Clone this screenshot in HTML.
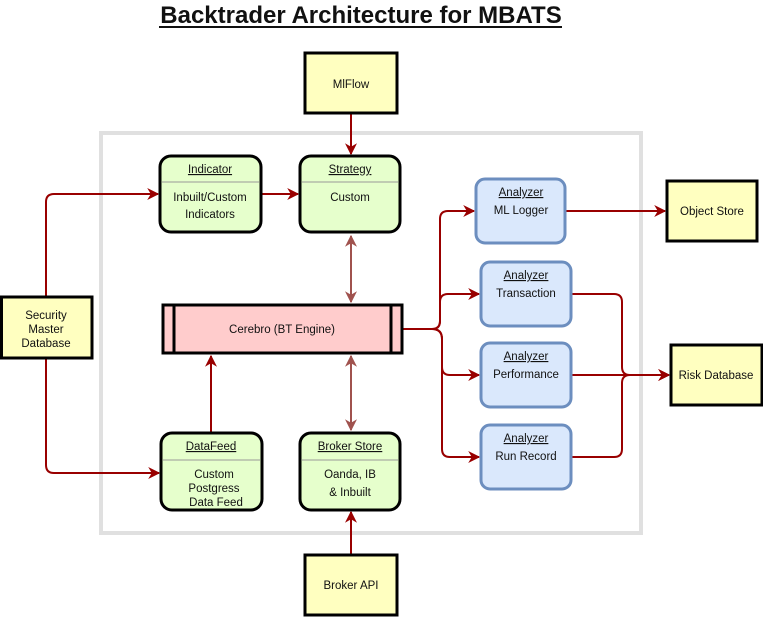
<!DOCTYPE html>
<html><head><meta charset="utf-8"><style>
html,body{margin:0;padding:0;background:#fff;width:763px;height:617px;overflow:hidden}
text{font-family:"Liberation Sans",sans-serif;font-size:11.5px;fill:#111}
</style></head><body>
<svg width="763" height="617" viewBox="0 0 763 617" xmlns="http://www.w3.org/2000/svg">
<defs>
<marker id="a" viewBox="0 0 10 10" refX="9" refY="5" markerWidth="6" markerHeight="6" orient="auto-start-reverse" markerUnits="strokeWidth"><path d="M0,0 L10,5 L0,10 L3,5 z" fill="#990000"/></marker>
<marker id="b" viewBox="0 0 10 10" refX="9" refY="5" markerWidth="6" markerHeight="6" orient="auto-start-reverse" markerUnits="strokeWidth"><path d="M0,0 L10,5 L0,10 L3,5 z" fill="#a0524e"/></marker>
</defs>
<text x="361" y="23" text-anchor="middle" style="font-size:24px;font-weight:bold">Backtrader Architecture for MBATS</text>
<line x1="159" y1="27" x2="562" y2="27" stroke="#111" stroke-width="2"/>
<rect x="101" y="133" width="540" height="400" fill="none" stroke="#e0e0e0" stroke-width="4"/>

<g fill="none" stroke="#990000" stroke-width="2">
<path d="M351,113 V154" marker-end="url(#a)"/>
<path d="M46,297 V202 Q46,194 54,194 H158" marker-end="url(#a)"/>
<path d="M46,358 V465 Q46,473 54,473 H159" marker-end="url(#a)"/>
<path d="M262,194 H298" marker-end="url(#a)"/>
<path d="M211,432 V356" marker-end="url(#a)"/>
<path d="M351,554 V512" marker-end="url(#a)"/>
<path d="M400,329 H432 Q440,329 440,321 V219 Q440,211 448,211 H474" marker-end="url(#a)"/>
<path d="M432,329 Q440,329 440,321 V302 Q440,294 448,294 H479" marker-end="url(#a)"/>
<path d="M432,329 Q442,329 442,339 V367 Q442,375 450,375 H479" marker-end="url(#a)"/>
<path d="M432,329 Q442,329 442,339 V449 Q442,457 450,457 H479" marker-end="url(#a)"/>
<path d="M565,211 H665" marker-end="url(#a)"/>
<path d="M571,294 H614 Q622,294 622,302 V367 Q622,375 630,375 H669" marker-end="url(#a)"/>
<path d="M571,375 H669" marker-end="url(#a)"/>
<path d="M571,457 H614 Q622,457 622,449 V383 Q622,375 630,375"/>
</g>
<g fill="none" stroke="#a0524e" stroke-width="2">
<path d="M351,236 V302" marker-start="url(#b)" marker-end="url(#b)"/>
<path d="M351,356 V430" marker-start="url(#b)" marker-end="url(#b)"/>
</g>

<g fill="#ffffc0" stroke="#000" stroke-width="3">
<rect x="305" y="53" width="92" height="60"/>
<rect x="1.5" y="297" width="90.5" height="61"/>
<rect x="305" y="555" width="92" height="60"/>
<rect x="667" y="181" width="90" height="60"/>
<rect x="671" y="345" width="91" height="60"/>
</g>
<text x="351" y="88" text-anchor="middle">MlFlow</text>
<text x="46" y="319" text-anchor="middle">Security</text>
<text x="46" y="333" text-anchor="middle">Master</text>
<text x="46" y="347" text-anchor="middle">Database</text>
<text x="351" y="589" text-anchor="middle">Broker API</text>
<text x="712" y="215" text-anchor="middle">Object Store</text>
<text x="716" y="379" text-anchor="middle">Risk Database</text>

<g fill="#e6ffcc" stroke="#000" stroke-width="3">
<rect x="160" y="156" width="101" height="76" rx="11"/>
<rect x="300" y="156" width="100" height="76" rx="11"/>
<rect x="161" y="433" width="101" height="77" rx="11"/>
<rect x="300" y="433" width="100" height="77" rx="11"/>
</g>
<g stroke="#999" stroke-width="1">
<line x1="162" y1="182" x2="259" y2="182"/>
<line x1="302" y1="182" x2="398" y2="182"/>
<line x1="163" y1="460" x2="260" y2="460"/>
<line x1="302" y1="460" x2="398" y2="460"/>
</g>
<text x="210" y="173" text-anchor="middle" text-decoration="underline">Indicator</text>
<text x="210" y="201" text-anchor="middle">Inbuilt/Custom</text>
<text x="210" y="218" text-anchor="middle">Indicators</text>
<text x="350" y="173" text-anchor="middle" text-decoration="underline">Strategy</text>
<text x="350" y="201" text-anchor="middle">Custom</text>
<text x="211" y="450" text-anchor="middle" text-decoration="underline">DataFeed</text>
<text x="214" y="478" text-anchor="middle">Custom</text>
<text x="214" y="492" text-anchor="middle">Postgress</text>
<text x="216" y="506" text-anchor="middle">Data Feed</text>
<text x="350" y="450" text-anchor="middle" text-decoration="underline">Broker Store</text>
<text x="350" y="478" text-anchor="middle">Oanda, IB</text>
<text x="350" y="496" text-anchor="middle">&amp; Inbuilt</text>

<rect x="163" y="305" width="239" height="48" fill="#ffcccc" stroke="#000" stroke-width="3"/>
<line x1="174" y1="305" x2="174" y2="353" stroke="#000" stroke-width="3"/>
<line x1="391" y1="305" x2="391" y2="353" stroke="#000" stroke-width="3"/>
<text x="282" y="333" text-anchor="middle">Cerebro (BT Engine)</text>

<g fill="#dae8fc" stroke="#6c8ebf" stroke-width="3">
<rect x="476" y="179" width="89" height="64" rx="9"/>
<rect x="481" y="262" width="90" height="64" rx="9"/>
<rect x="481" y="343" width="90" height="64" rx="9"/>
<rect x="481" y="425" width="90" height="64" rx="9"/>
</g>
<text x="521" y="196" text-anchor="middle" text-decoration="underline">Analyzer</text>
<text x="521" y="214" text-anchor="middle">ML Logger</text>
<text x="526" y="279" text-anchor="middle" text-decoration="underline">Analyzer</text>
<text x="526" y="297" text-anchor="middle">Transaction</text>
<text x="526" y="360" text-anchor="middle" text-decoration="underline">Analyzer</text>
<text x="526" y="378" text-anchor="middle">Performance</text>
<text x="526" y="442" text-anchor="middle" text-decoration="underline">Analyzer</text>
<text x="526" y="460" text-anchor="middle">Run Record</text>
</svg>
</body></html>
